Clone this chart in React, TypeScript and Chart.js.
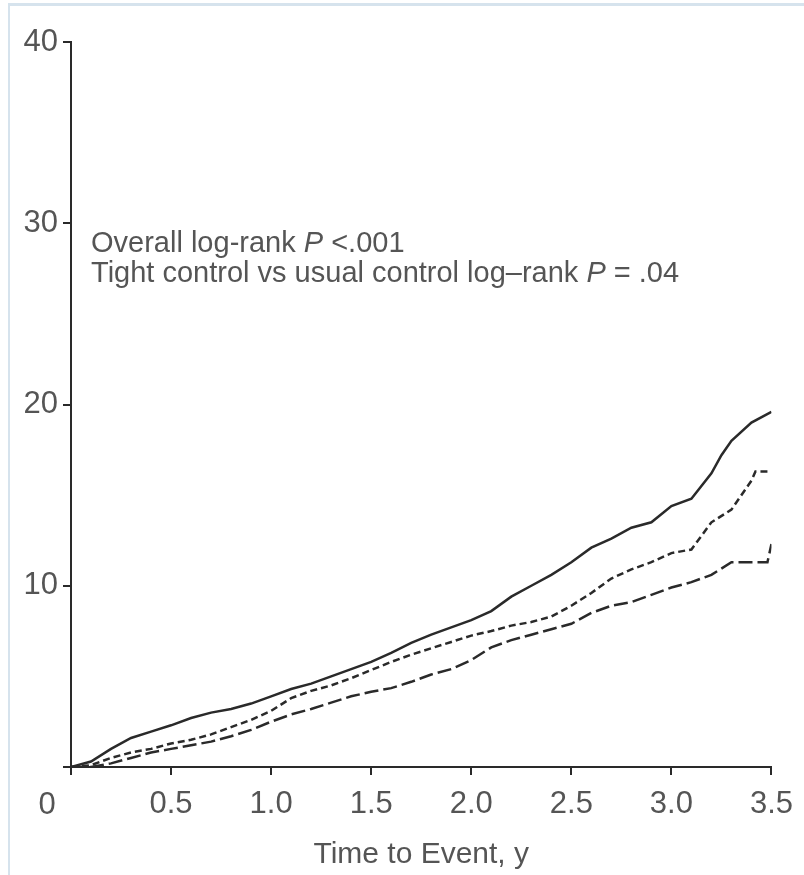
import React, { useEffect, useRef } from "react";
import { Chart, registerables } from "chart.js";

Chart.register(...registerables);

const timesSolid = [0, 0.1, 0.2, 0.3, 0.4, 0.5, 0.6, 0.7, 0.8, 0.9, 1.0, 1.1, 1.2, 1.3, 1.4, 1.5, 1.6, 1.7, 1.8, 1.9, 2.0, 2.1, 2.2, 2.3, 2.4, 2.5, 2.6, 2.7, 2.8, 2.9, 3.0, 3.1, 3.2, 3.25, 3.3, 3.4, 3.5];
const valuesSolid = [0, 0.3, 1.0, 1.6, 1.95, 2.3, 2.7, 3.0, 3.2, 3.5, 3.9, 4.3, 4.6, 5.0, 5.4, 5.8, 6.3, 6.85, 7.3, 7.7, 8.1, 8.6, 9.4, 10.0, 10.6, 11.3, 12.1, 12.6, 13.2, 13.5, 14.4, 14.8, 16.2, 17.2, 18.0, 19.0, 19.6];

const timesShortDash = [0, 0.1, 0.2, 0.3, 0.4, 0.5, 0.6, 0.7, 0.8, 0.9, 1.0, 1.1, 1.2, 1.3, 1.4, 1.5, 1.6, 1.7, 1.8, 1.9, 2.0, 2.1, 2.2, 2.3, 2.4, 2.5, 2.6, 2.7, 2.8, 2.9, 3.0, 3.1, 3.2, 3.3, 3.4, 3.42, 3.5];
const valuesShortDash = [0, 0.1, 0.5, 0.8, 1.0, 1.3, 1.5, 1.8, 2.2, 2.6, 3.1, 3.8, 4.2, 4.5, 4.9, 5.35, 5.8, 6.2, 6.55, 6.9, 7.25, 7.5, 7.8, 8.0, 8.3, 8.9, 9.6, 10.4, 10.9, 11.3, 11.8, 12.0, 13.5, 14.2, 15.8, 16.3, 16.3];

const timesLongDash = [0, 0.1, 0.2, 0.3, 0.4, 0.5, 0.6, 0.7, 0.8, 0.9, 1.0, 1.1, 1.2, 1.3, 1.4, 1.5, 1.6, 1.7, 1.8, 1.9, 2.0, 2.1, 2.2, 2.3, 2.4, 2.5, 2.6, 2.7, 2.8, 2.9, 3.0, 3.1, 3.2, 3.3, 3.4, 3.48, 3.5];
const valuesLongDash = [0, 0, 0.2, 0.5, 0.8, 1.0, 1.2, 1.4, 1.7, 2.05, 2.5, 2.9, 3.2, 3.55, 3.9, 4.15, 4.35, 4.7, 5.1, 5.4, 5.9, 6.6, 7.0, 7.3, 7.6, 7.9, 8.5, 8.9, 9.1, 9.5, 9.9, 10.2, 10.6, 11.3, 11.3, 11.3, 12.3];

const xTickValues = [0, 0.5, 1.0, 1.5, 2.0, 2.5, 3.0, 3.5];
const yTickValues = [0, 10, 20, 30, 40];
const xAxisTitle = "Time to Event, y";
const originLabel = "0";
const annotationLine1 = ["Overall log-rank ", "P", " <.001"];
const annotationLine2 = ["Tight control vs usual control log\u2013rank ", "P", " = .04"];

const FONT = "'Liberation Sans', Arial, sans-serif";
const TEXT_COLOR = "#555555";
const LINE_COLOR = "#2a2a2a";

function toPoints(xs: number[], ys: number[]) {
  return xs.map((x, i) => ({ x, y: ys[i] }));
}

const framePlugin = {
  id: "frame",
  beforeDraw(chart: any) {
    const ctx = chart.ctx;
    ctx.save();
    ctx.fillStyle = "#ffffff";
    ctx.fillRect(0, 0, chart.width, chart.height);
    ctx.fillStyle = "#d6e3ed";
    ctx.fillRect(8, 3, chart.width - 8, 3);
    ctx.fillRect(8, 3, 2, chart.height - 3);
    ctx.restore();
  },
  afterDraw(chart: any) {
    const ctx = chart.ctx;
    const xs = chart.scales.x;
    const ys = chart.scales.y;
    ctx.save();
    ctx.fillStyle = TEXT_COLOR;
    ctx.textBaseline = "middle";
    ctx.font = `31px ${FONT}`;
    ctx.textAlign = "center";
    ctx.fillText(originLabel, xs.getPixelForValue(0) - 24, 805);
    ctx.textAlign = "left";
    ctx.textBaseline = "alphabetic";
    const drawParts = (parts: string[], x: number, y: number) => {
      let cx = x;
      parts.forEach((p, i) => {
        ctx.font = i === 1 ? `italic 29px ${FONT}` : `29px ${FONT}`;
        ctx.fillText(p, cx, y);
        cx += ctx.measureText(p).width;
      });
    };
    const ax = xs.getPixelForValue(0.1);
    drawParts(annotationLine1, ax, ys.getPixelForValue(28.41));
    drawParts(annotationLine2, ax, ys.getPixelForValue(26.76));
    ctx.restore();
  },
};

export default function App() {
  const ref = useRef<HTMLCanvasElement | null>(null);
  useEffect(() => {
    if (!ref.current) return;
    const chart = new Chart(ref.current, {
      type: "line",
      data: {
        datasets: [
          {
            label: "Solid",
            data: toPoints(timesSolid, valuesSolid),
            borderColor: LINE_COLOR,
            borderWidth: 2.5,
            pointRadius: 0,
            fill: false,
            tension: 0,
          },
          {
            label: "Short dash",
            data: toPoints(timesShortDash, valuesShortDash),
            borderColor: LINE_COLOR,
            borderWidth: 2.5,
            borderDash: [7, 4],
            pointRadius: 0,
            fill: false,
            tension: 0,
          },
          {
            label: "Long dash",
            data: toPoints(timesLongDash, valuesLongDash),
            borderColor: LINE_COLOR,
            borderWidth: 2.5,
            borderDash: [14, 5],
            pointRadius: 0,
            fill: false,
            tension: 0,
          },
        ],
      },
      options: {
        animation: false,
        responsive: false,
        maintainAspectRatio: false,
        layout: { padding: { top: 42, right: 24, left: 0, bottom: 0 } },
        plugins: {
          legend: { display: false },
          tooltip: { enabled: false },
        },
        scales: {
          x: {
            type: "linear",
            min: 0,
            max: 3.5,
            afterBuildTicks: (scale: any) => {
              scale.ticks = xTickValues.map((v) => ({ value: v }));
            },
            afterFit: (scale: any) => {
              scale.height = 108;
            },
            ticks: {
              callback: (v: any) => (Number(v) === 0 ? "" : Number(v).toFixed(1)),
              color: TEXT_COLOR,
              font: { family: FONT, size: 31 },
              padding: 11,
              maxRotation: 0,
              autoSkip: false,
            },
            grid: {
              display: true,
              drawOnChartArea: false,
              drawTicks: true,
              tickLength: 8,
              color: LINE_COLOR,
              lineWidth: 2,
            },
            border: { display: true, color: LINE_COLOR, width: 2 },
            title: {
              display: true,
              text: xAxisTitle,
              color: TEXT_COLOR,
              font: { family: FONT, size: 30 },
              padding: { top: 2, bottom: 2 },
            },
          },
          y: {
            type: "linear",
            min: 0,
            max: 40,
            afterBuildTicks: (scale: any) => {
              scale.ticks = yTickValues.map((v) => ({ value: v }));
            },
            afterFit: (scale: any) => {
              scale.width = 71;
            },
            ticks: {
              callback: (v: any) => (Number(v) === 0 ? "" : String(v)),
              color: TEXT_COLOR,
              font: { family: FONT, size: 31 },
              padding: 5,
              autoSkip: false,
            },
            grid: {
              display: true,
              drawOnChartArea: false,
              drawTicks: true,
              tickLength: 8,
              color: LINE_COLOR,
              lineWidth: 2,
            },
            border: { display: true, color: LINE_COLOR, width: 2 },
          },
        },
      },
      plugins: [framePlugin],
    });
    return () => chart.destroy();
  }, []);

  return (
    <div style={{ position: "fixed", left: 0, top: 0, width: 804, height: 875 }}>
      <canvas ref={ref} width={804} height={875} style={{ width: 804, height: 875, display: "block" }} />
    </div>
  );
}
